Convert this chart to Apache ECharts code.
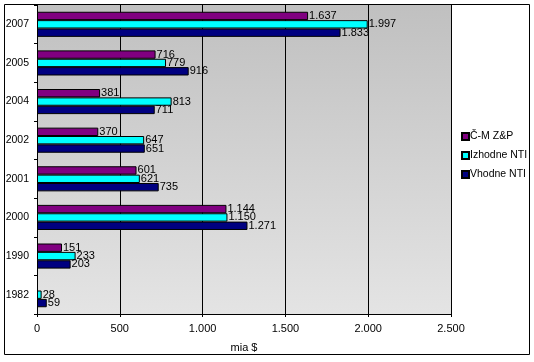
<!DOCTYPE html>
<html><head><meta charset="utf-8">
<script src="https://cdn.jsdelivr.net/npm/echarts@6/dist/echarts.min.js"></script>
<style>html,body{margin:0;padding:0;background:#fff;}#c{width:534px;height:362px;}</style>
</head><body><div id="c"></div>
<script>
var categories = ['1982', '1990', '2000', '2001', '2002', '2004', '2005', '2007'];
var seriesNames = ['Č-M Z&P', 'Izhodne NTI', 'Vhodne NTI'];
var cmZP = [null, 151, 1144, 601, 370, 381, 716, 1637];
var izhodne = [28, 233, 1150, 621, 647, 813, 779, 1997];
var vhodne = [59, 203, 1271, 735, 651, 711, 916, 1833];
var xTicks = [0, 500, 1000, 1500, 2000, 2500];
var colors = ['#800080', '#00ffff', '#000080'];

function fmt(v) {
  v = Math.round(v);
  if (v >= 1000) return Math.floor(v / 1000) + '.' + String(v % 1000).padStart(3, '0');
  return String(v);
}
var font = 'Liberation Sans';
var chart = echarts.init(document.getElementById('c'));
function mk(name, data, color) {
  return {
    name: name, type: 'bar', data: data,
    barGap: '0%', barCategoryGap: '35%',
    itemStyle: { color: color, borderColor: '#000', borderWidth: 1 },
    label: { show: true, position: 'right', distance: 1, color: '#000', fontFamily: font, fontSize: 11,
      formatter: function (p) { return p.value == null ? '' : fmt(p.value); } },
    emphasis: { disabled: true },
    animation: false
  };
}
chart.setOption({
  animation: false,
  textStyle: { fontFamily: font },
  grid: { left: 37, right: 83, top: 5, bottom: 48, show: true, borderWidth: 0,
    backgroundColor: new echarts.graphic.LinearGradient(0, 0, 0, 1, [
      { offset: 0, color: '#c0c0c0' }, { offset: 1, color: '#e4e4e4' }]) },
  legend: {
    orient: 'vertical', left: 461, top: 131, padding: 0, itemWidth: 7, itemHeight: 7, itemGap: 8,
    icon: 'rect', data: seriesNames,
    textStyle: { fontFamily: font, fontSize: 10.5, color: '#000', padding: [0, 0, 0, -4] }
  },
  xAxis: {
    type: 'value', min: 0, max: 2500, interval: 500,
    name: 'mia $', nameLocation: 'middle', nameGap: 28,
    nameTextStyle: { fontFamily: font, fontSize: 11, color: '#000' },
    axisLine: { show: true, lineStyle: { color: '#000', width: 1 } },
    axisTick: { show: true, length: 3, lineStyle: { color: '#000' } },
    axisLabel: { color: '#000', fontFamily: font, fontSize: 11, margin: 9,
      formatter: function (v) { return xTicks.indexOf(v) >= 0 ? fmt(v) : ''; } },
    splitLine: { show: true, lineStyle: { color: '#000', width: 1 } }
  },
  yAxis: {
    type: 'category', data: categories,
    axisLine: { show: true, lineStyle: { color: '#000', width: 1 } },
    axisTick: { show: true, length: 3, lineStyle: { color: '#000' } },
    axisLabel: { color: '#000', fontFamily: font, fontSize: 10.5, margin: 8 }
  },
  graphic: [{ type: 'rect', shape: { x: 4.5, y: 4.5, width: 525, height: 350 },
    style: { fill: 'none', stroke: '#000', lineWidth: 1 }, z: 100 }],
  series: [mk(seriesNames[0], cmZP, colors[0]), mk(seriesNames[1], izhodne, colors[1]), mk(seriesNames[2], vhodne, colors[2])]
});
</script></body></html>
